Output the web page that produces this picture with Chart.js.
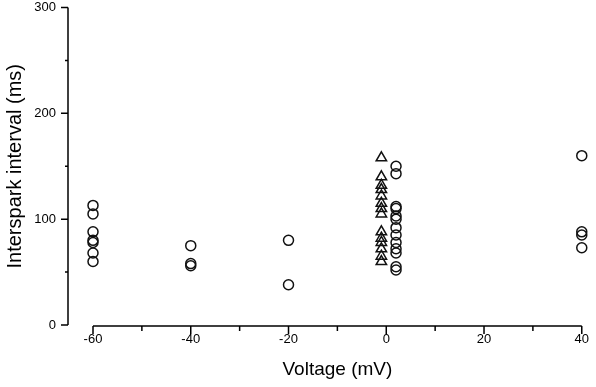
<!DOCTYPE html>
<html>
<head>
<meta charset="utf-8">
<script src="https://cdn.jsdelivr.net/npm/chart.js@4"></script>
<style>
  html, body { margin: 0; padding: 0; background: #fff; }
  #wrap { width: 596px; height: 387px; }
</style>
</head>
<body>
<div id="wrap"><canvas id="myChart" width="596" height="387"></canvas></div>
<script>
// circles
const circleVoltage = [-60, -60, -60, -60, -60, -60, -60,
                       -40, -40, -40,
                       -20, -20,
                       2, 2, 2, 2, 2, 2, 2, 2, 2, 2, 2, 2, 2,
                       40, 40, 40, 40];
const circleInterval = [113, 105, 88, 80, 78, 68, 60,
                        75, 58, 56,
                        80, 38,
                        150, 143, 112, 110, 103, 100, 92, 85, 78, 72, 68, 55, 52,
                        160, 88, 85, 73];
// triangles
const triangleVoltage = [-1, -1, -1, -1, -1, -1, -1, -1, -1, -1, -1, -1, -1, -1];
const triangleInterval = [158, 140, 132, 128, 122, 115, 110, 105, 88, 82, 78, 72, 65, 60];

const xTicks = [-60, -40, -20, 0, 20, 40];
const yTicks = [0, 100, 200, 300];

function toPoints(xs, ys){
    const pts = [];
    for(var i = 0; i < xs.length; i++){
        pts.push({x: xs[i], y: ys[i]});
    }
    return pts;
}

const FONT = "'Liberation Sans', Arial, Helvetica, sans-serif";

// axis lines + major/minor ticks, drawn like the original figure
const axisPlugin = {
    id: 'axisLines',
    afterDraw(chart){
        const ctx = chart.ctx;
        const xs = chart.scales.x;
        const ys = chart.scales.y;
        const area = chart.chartArea;
        const yAxisX = area.left - 25;
        const xAxisY = area.bottom + 1;
        ctx.save();
        ctx.strokeStyle = '#000';
        ctx.lineWidth = 1.5;
        ctx.beginPath();
        ctx.moveTo(yAxisX, ys.getPixelForValue(300));
        ctx.lineTo(yAxisX, ys.getPixelForValue(0));
        for(var v = 0; v <= 300; v += 50){
            const py = ys.getPixelForValue(v);
            const len = (v % 100 == 0) ? 7 : 3;
            ctx.moveTo(yAxisX, py);
            ctx.lineTo(yAxisX - len, py);
        }
        ctx.moveTo(xs.getPixelForValue(-60), xAxisY);
        ctx.lineTo(xs.getPixelForValue(40), xAxisY);
        for(var k = -60; k <= 40; k += 10){
            const px = xs.getPixelForValue(k);
            const len = (k % 20 == 0) ? 8 : 5;
            ctx.moveTo(px, xAxisY);
            ctx.lineTo(px, xAxisY + len);
        }
        ctx.stroke();
        ctx.restore();
    }
};

const data = {
    datasets: [
        {
            label: 'circles',
            data: toPoints(circleVoltage, circleInterval),
            pointStyle: 'circle',
            pointRadius: 5,
            pointBorderWidth: 1.5,
            borderColor: '#111',
            backgroundColor: 'rgba(0,0,0,0)',
            clip: false
        },
        {
            label: 'triangles',
            data: toPoints(triangleVoltage, triangleInterval),
            pointStyle: 'triangle',
            pointRadius: 6,
            pointBorderWidth: 1.5,
            borderColor: '#111',
            backgroundColor: 'rgba(0,0,0,0)',
            clip: false
        }
    ]
};

const config = {
    type: 'scatter',
    data: data,
    plugins: [axisPlugin],
    options: {
        responsive: false,
        animation: false,
        layout: { padding: { top: 7, right: 13, left: 0, bottom: 0 } },
        plugins: {
            legend: { display: false },
            tooltip: { enabled: false }
        },
        scales: {
            x: {
                type: 'linear',
                min: -60,
                max: 40,
                afterFit: function(scale){ scale.height = 62; },
                afterBuildTicks: function(scale){
                    scale.ticks = xTicks.map(function(v){ return {value: v}; });
                },
                border: { display: false },
                grid: { display: false, drawTicks: false },
                ticks: {
                    color: '#000',
                    padding: 7,
                    maxRotation: 0,
                    font: { family: FONT, size: 13 }
                },
                title: {
                    display: true,
                    text: 'Voltage (mV)',
                    color: '#000',
                    padding: { top: 0, bottom: 6 },
                    font: { family: FONT, size: 19 }
                }
            },
            y: {
                type: 'linear',
                min: 0,
                max: 300,
                afterFit: function(scale){
                    scale.width = 93;
                    scale.paddingTop = 0;
                    scale.paddingBottom = 0;
                },
                afterBuildTicks: function(scale){
                    scale.ticks = yTicks.map(function(v){ return {value: v}; });
                },
                border: { display: false },
                grid: { display: false, drawTicks: false },
                ticks: {
                    color: '#000',
                    padding: 37,
                    font: { family: FONT, size: 13 }
                },
                title: {
                    display: true,
                    text: 'Interspark interval (ms)',
                    color: '#000',
                    padding: { top: 3, bottom: 0 },
                    font: { family: FONT, size: 20 }
                }
            }
        }
    }
};

const myChart = new Chart(document.getElementById('myChart'), config);
</script>
</body>
</html>
